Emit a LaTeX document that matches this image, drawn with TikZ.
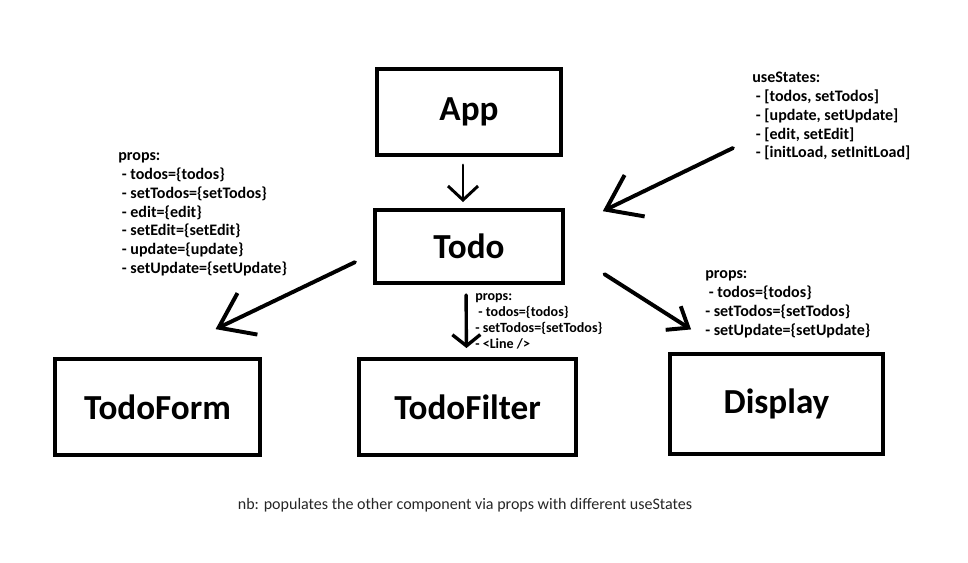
\documentclass[tikz,border=0pt]{standalone}
\usepackage{fontspec}
\setmainfont{Carlito}
\usetikzlibrary{arrows.meta}
\usetikzlibrary{calc}

\begin{document}
\begin{tikzpicture}[x=0.025cm, y=-0.025cm,
    box/.style={draw, line width=2.8pt, inner sep=0pt, font=\fontsize{25}{29}\selectfont\bfseries},
    props/.style={anchor=north west, align=left, inner sep=0pt, font=\fontsize{11.4}{13.4}\selectfont\bfseries},
    arr/.style={line width=2.1pt, line cap=round, line join=round, -{Straight Barb[length=0.35cm,width=0.75cm]}},
    bigarr/.style={line width=2.8pt, line cap=round, line join=round, -{Straight Barb[length=0.8cm,width=1.15cm]}}]
    \useasboundingbox[fill=white] (0,0) rectangle (968,562);

    \node (app) at (469,112) [box, minimum width=4.6cm, minimum height=2.15cm] {App};
    \node (todo) at (469,246.5) [box, minimum width=4.7cm, minimum height=1.825cm] {Todo};
    \node (form) at (157.5,407) [box, minimum width=5.125cm, minimum height=2.4cm] {TodoForm};
    \node (filter) at (467.5,407) [box, minimum width=5.425cm, minimum height=2.4cm] {TodoFilter};
    \node (display) at (776.5,404) [box, minimum width=5.325cm, minimum height=2.5cm] {Display};

    \node (formprops) at (118,152.4) [props] {props:\\ \ - todos=\{todos\}\\ \ - setTodos=\{setTodos\}\\ \ - edit=\{edit\}\\ \ - setEdit=\{setEdit\}\\ \ - update=\{update\}\\ \ - setUpdate=\{setUpdate\}};
    \node (states) at (752,71.7) [props] {useStates:\\ \ - [todos, setTodos]\\ \ - [update, setUpdate]\\ \ - [edit, setEdit]\\ \ - [initLoad, setInitLoad]};
    \node (displayprops) at (705,270.4) [props] {props:\\ \ - todos=\{todos\}\\ - setTodos=\{setTodos\}\\ - setUpdate=\{setUpdate\}};
    \node (filterprops) at (475,293.4) [props, font=\fontsize{10}{11.4}\selectfont\bfseries] {props:\\ \ - todos=\{todos\}\\ - setTodos=\{setTodos\}\\ - <Line />};

    \node (note) at (465,509) [anchor=base, font=\fontsize{11.4}{13}\selectfont, text=black!85] {nb: populates the other component via props with different useStates};

    \coordinate (ustail) at (733,148);

    \draw[arr, shorten <=0.2cm, shorten >=0.15cm] ($(app.south)+(-6,0)$) -- ($(todo.north)+(-6,0)$);
    \draw[arr, line width=2.4pt, shorten <=0.25cm, shorten >=0.225cm, -{Straight Barb[length=0.28cm,width=0.7cm]}] ($(todo.south)+(-3,0)$) -- ($(filter.north)+(-1,0)$);
    \draw[bigarr, shorten <=0.5cm, shorten >=1.61cm] ($(todo.west)+(0,7)$) -- (form.north);
    \draw[bigarr, shorten >=1.05cm] (ustail) -- ($(todo.east)+(0,-17)$);
    \draw[bigarr, shorten <=1.17cm, shorten >=1.05cm, -{Straight Barb[length=0.45cm,width=0.7cm]}] ($(todo.east)+(0,2.5)$) -- ($(display.north)+(-50,0)$);
\end{tikzpicture}
\end{document}
